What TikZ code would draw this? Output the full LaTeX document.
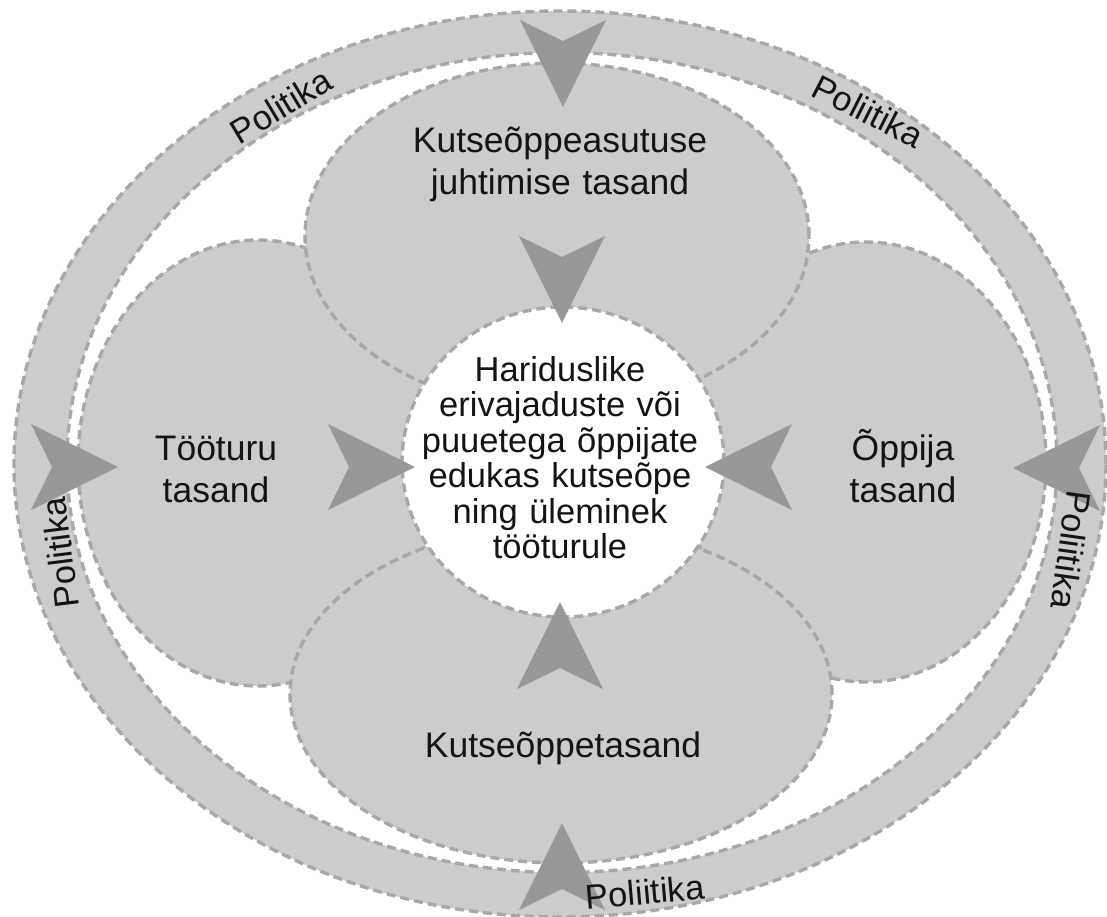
\documentclass[tikz,border=0pt]{standalone}
\usepackage{fontspec}
\setmainfont{Liberation Sans}
\usetikzlibrary{shapes.geometric}
\definecolor{zonefill}{RGB}{204,204,204}
\definecolor{zoneline}{RGB}{168,168,168}
\definecolor{chevfill}{RGB}{152,152,152}
\definecolor{inktext}{RGB}{20,20,20}
\tikzset{
  edgedash/.style={draw=zoneline, line width=3.4pt, dash pattern=on 9pt off 5pt},
  zone/.style={ellipse, fill=zonefill, edgedash, inner sep=0pt, outer sep=0pt},
  hub/.style={ellipse, fill=white, edgedash, inner sep=0pt, outer sep=0pt},
  levellabel/.style={text=inktext, font=\fontsize{35.5}{42}\selectfont, text width=400pt, align=center, anchor=base, inner sep=0pt},
  hubtext/.style={text=inktext, font=\fontsize{34.5}{35.5}\selectfont, text width=300pt, align=center, anchor=base, inner sep=0pt},
  ringlabel/.style={text=inktext, font=\fontsize{34.5}{40}\selectfont, inner sep=0pt},
  chev/.pic={\fill[chevfill] (0,0) -- (-87,43) -- (-66,0) -- (-87,-43) -- cycle;}
}
\begin{document}
\begin{tikzpicture}[x=1pt, y=-1pt]
\useasboundingbox (0,0) rectangle (1107,916);

% outer policy ring
\fill[zonefill, even odd rule]
  (560,464) ellipse [x radius=546pt, y radius=453pt]
  (562,462.5) ellipse [x radius=495pt, y radius=410pt];
\draw[edgedash] (560,464) ellipse [x radius=546pt, y radius=453pt];
\draw[edgedash] (562,462.5) ellipse [x radius=495pt, y radius=410pt];

% side levels first, then top and bottom levels over them
\node[zone, minimum width=360pt, minimum height=446pt] (labour) at (258,463) {};
\node[zone, minimum width=360pt, minimum height=440pt] (learner) at (866,462) {};
\node[zone, minimum width=504pt, minimum height=346pt] (school) at (557,236) {};
\node[zone, minimum width=542pt, minimum height=338pt] (training) at (561,694) {};

% central goal
\node[hub, minimum width=322pt, minimum height=310pt] (goal) at (563,462) {};

% chevrons pointing inwards
\pic[rotate=-90] at (563,107) {chev};
\pic[rotate=-90] at (562,323) {chev};
\pic at (118,467) {chev};
\pic at (415,467) {chev};
\pic[rotate=180] at (705,467) {chev};
\pic[rotate=180] at (1013,468) {chev};
\pic[rotate=90] at (560,602) {chev};
\pic[rotate=90] at (562,823) {chev};

% level labels
\node[levellabel] (schooltext) at (560,152) {Kutseõppeasutuse\\juhtimise tasand};
\node[levellabel] (labourtext) at (216,460) {Tööturu\\tasand};
\node[levellabel] (learnertext) at (903,460) {Õppija\\tasand};
\node[levellabel] (trainingtext) at (563,757) {Kutseõppetasand};
\node[hubtext] (goaltext) at (560,381) {Hariduslike\\erivajaduste või\\puuetega õppijate\\edukas kutseõpe\\ning üleminek\\tööturule};

% policy labels on the ring
\node[ringlabel, rotate=31] (poltl) at (281,106) {Politika};
\node[ringlabel, rotate=-27] (poltr) at (868,111) {Poliitika};
\node[ringlabel, rotate=97] (poll) at (60,553) {Politika};
\node[ringlabel, rotate=-98] (polr) at (1071,550) {Poliitika};
\node[ringlabel, rotate=5] (polb) at (645,892) {Poliitika};
\end{tikzpicture}
\end{document}
